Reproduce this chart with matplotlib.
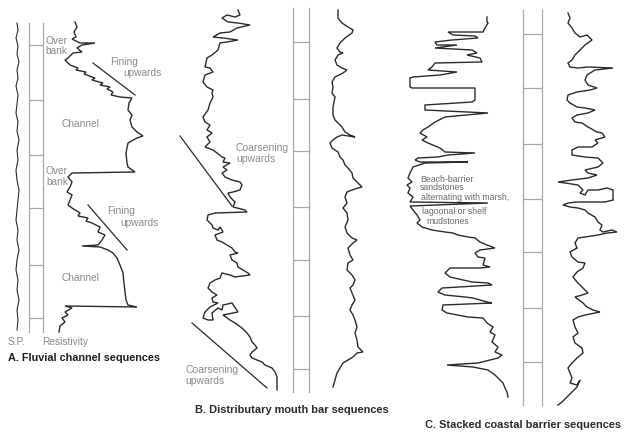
import matplotlib.pyplot as plt

# ── Global style ───────────────────────────────────────────────────────────────
plt.rcParams.update({
    "font.family": ["Liberation Sans", "DejaVu Sans"],
    "font.size":   7,
})

INK   = "#2b2b2b"
GRID  = "#a8a8a8"
LABEL = "#8a8a8a"

# ── Log traces (depth downwards, log reading across) ───────────────────────────
# A. Fluvial channel — S.P.
a_sp_depth = [23, 30, 38, 46, 54, 62, 70, 78, 86, 95, 104, 113, 122, 131, 140, 150,
              160, 170, 180, 190, 200, 210, 220, 230, 240, 250, 260, 270, 280, 290,
              300, 310, 320, 330]
a_sp_value = [17, 18, 16, 18, 17, 19, 17, 18, 16, 18, 17, 16, 18, 17, 19, 17,
              18, 16, 17, 19, 18, 17, 16, 18, 17, 19, 17, 16, 18, 17,
              19, 17, 18, 17]

# A. Fluvial channel — resistivity
a_res_depth = [22, 27, 32, 37, 39, 43, 43, 45, 48, 52, 53, 58, 60, 65, 68, 70, 72, 74,
               78, 80, 83, 85, 87, 89, 92, 95, 97, 98, 103, 110, 115, 120, 127, 132,
               136, 138, 143, 153, 163, 167, 172, 173, 177, 182, 187, 192, 195, 200,
               205, 208, 213, 216, 218, 221, 223, 227, 232, 235, 240, 245, 246, 247,
               250, 253, 258, 265, 273, 283, 292, 300, 305, 307, 306, 308, 312, 315,
               318, 322, 326, 332]
a_res_value = [75, 77, 74, 76, 72, 80, 95, 82, 77, 82, 73, 68, 65, 70, 78, 76, 86, 84,
               95, 92, 103, 100, 110, 107, 113, 111, 120, 132, 129, 128, 132, 130, 132,
               137, 143, 137, 128, 126, 127, 128, 135, 72, 68, 72, 70, 67, 72, 70,
               68, 72, 80, 78, 88, 86, 92, 100, 98, 105, 102, 98, 82, 100,
               108, 113, 117, 120, 123, 124, 125, 126, 128, 137, 65, 72, 65, 68,
               62, 65, 60, 59]

# B. Distributary mouth bar — S.P.
b_sp_depth = [10, 15, 17, 15, 18, 22, 23, 25, 28, 32, 33, 37, 38, 40, 42, 43, 50, 55, 58,
              67, 68, 72, 75, 82, 87, 90, 93, 97, 103, 110, 117, 122, 125, 130, 133,
              137, 142, 147, 150, 153, 157, 158, 162, 163, 167, 170, 173, 177, 180,
              182, 185, 190, 192, 193, 197, 202, 207, 210, 212, 213, 215, 220, 225,
              228, 230, 227, 232, 235, 240, 242, 245, 248, 252, 253, 255, 260, 263,
              267, 270, 273, 275, 277, 275, 273, 278, 280, 283, 288, 292, 295, 298,
              302, 303, 307, 312, 318, 320, 320, 313, 308, 310, 305, 303, 312, 313,
              315, 320, 323, 328, 333, 337, 342, 345, 348, 352, 355, 358, 360, 362,
              365, 368, 372, 377, 385, 390]
b_sp_value = [238, 240, 235, 227, 222, 228, 238, 250, 237, 230, 220, 213, 223, 238, 227,
              220, 218, 212, 207, 205, 210, 213, 205, 203, 207, 213, 212, 213, 210, 208,
              203, 205, 210, 207, 212, 207, 210, 205, 213, 217, 222, 225, 223, 230, 223,
              227, 222, 225, 232, 240, 242, 240, 233, 228, 230, 235, 233, 245, 247, 215,
              208, 207, 212, 213, 218, 220, 223, 215, 217, 222, 227, 232, 235, 238, 230,
              232, 237, 238, 243, 248, 250, 235, 230, 222, 220, 215, 210, 208, 212, 217,
              212, 213, 218, 210, 205, 203, 208, 213, 212, 218, 222, 223, 232, 238, 233,
              223, 230, 235, 242, 247, 250, 252, 255, 257, 252, 250, 252, 257, 262,
              265, 272, 275, 277, 277, 277]

# B. Distributary mouth bar — resistivity
b_res_depth = [10, 18, 23, 27, 30, 33, 38, 43, 48, 52, 53, 55, 60, 65, 68, 70, 73, 77, 82,
               87, 93, 97, 107, 115, 120, 123, 127, 132, 135, 137, 135, 137, 140, 143,
               148, 150, 152, 157, 160, 165, 168, 173, 178, 182, 185, 187, 188, 190,
               192, 197, 203, 208, 213, 220, 227, 233, 238, 240, 243, 248, 255, 260,
               263, 270, 275, 280, 285, 288, 293, 300, 305, 310, 315, 320, 327, 333,
               340, 347, 352, 353, 357, 360, 363, 368, 373, 380, 387]
b_res_value = [338, 338, 342, 348, 353, 352, 345, 340, 337, 340, 343, 338, 335, 337, 342,
               347, 343, 335, 332, 333, 332, 335, 333, 333, 335, 338, 342, 345, 350, 355,
               342, 337, 333, 330, 332, 335, 338, 340, 343, 345, 348, 352, 353, 357, 360,
               362, 358, 352, 347, 345, 347, 343, 347, 348, 345, 347, 352, 357, 353, 348,
               350, 353, 348, 347, 352, 355, 353, 350, 352, 355, 352, 350, 353, 355, 357,
               355, 357, 358, 363, 357, 353, 348, 343, 340, 337, 335, 333]

# C. Stacked coastal barrier — S.P.
c_sp_depth = [17, 22, 23, 28, 32, 32, 35, 36, 38, 40, 42, 45, 45, 48, 50, 53, 55, 58, 62,
              63, 67, 70, 72, 75, 77, 78, 87, 88, 88, 97, 100, 102, 105, 110, 113, 117,
              122, 127, 130, 133, 137, 140, 143, 148, 152, 153, 155, 157, 158, 160, 162,
              162, 163, 167, 173, 178, 182, 185, 188, 193, 197, 202, 203, 206, 210,
              215, 220, 223, 227, 230, 232, 233, 235, 237, 238, 242, 245, 248, 250,
              253, 257, 258, 265, 267, 268, 268, 273, 277, 282, 283, 285, 288, 292,
              295, 297, 298, 302, 303, 305, 310, 313, 317, 318, 323, 327, 332, 335,
              342, 347, 352, 355, 358, 363, 365, 367, 370, 375, 380, 383, 388, 392, 397]
c_sp_value = [487, 487, 488, 485, 483, 448, 453, 475, 478, 452, 435, 437, 457, 435, 472,
              477, 467, 480, 482, 435, 432, 428, 457, 440, 413, 410, 410, 412, 475, 475,
              475, 472, 425, 425, 488, 445, 435, 428, 423, 420, 427, 422, 428, 440, 445,
              475, 448, 438, 418, 415, 420, 468, 425, 413, 410, 408, 412, 407, 410, 408,
              413, 410, 488, 410, 413, 417, 420, 417, 422, 432, 445, 453, 458, 468, 475,
              480, 487, 495, 480, 475, 478, 485, 483, 490, 480, 450, 445, 450, 472, 488,
              492, 442, 438, 445, 465, 473, 487, 492, 443, 442, 447, 468, 483, 487, 493,
              490, 495, 492, 498, 495, 502, 498, 478, 447, 473, 488, 495, 500, 503, 505,
              507, 508]

# C. Stacked coastal barrier — resistivity
c_res_depth = [13, 18, 23, 28, 33, 37, 35, 40, 45, 50, 55, 60, 63, 67, 68, 67, 68, 70, 75,
               80, 85, 88, 90, 92, 95, 100, 103, 107, 108, 110, 113, 115, 118, 122, 123,
               127, 132, 133, 137, 140, 143, 147, 147, 150, 155, 157, 158, 163, 167, 170,
               173, 175, 178, 180, 182, 183, 185, 190, 193, 195, 190, 190, 188, 190,
               200, 202, 202, 203, 205, 207, 208, 210, 213, 217, 222, 225, 230, 232,
               230, 232, 233, 235, 237, 238, 243, 248, 252, 257, 262, 263, 268, 272,
               277, 282, 285, 290, 293, 295, 297, 303, 307, 310, 312, 315, 317, 320,
               327, 333, 337, 343, 348, 353, 358, 363, 368, 373, 378, 383, 385, 380,
               387, 392, 397, 402, 405]
c_res_value = [568, 570, 568, 572, 575, 580, 587, 592, 585, 580, 575, 572, 568, 570, 578,
               588, 613, 595, 587, 585, 588, 597, 590, 577, 568, 567, 570, 577, 585, 595,
               588, 577, 572, 575, 582, 588, 597, 602, 605, 595, 598, 592, 578, 572, 572,
               585, 598, 603, 598, 585, 588, 597, 588, 572, 558, 565, 578, 583, 580, 585,
               588, 598, 607, 613, 613, 605, 577, 568, 563, 570, 578, 585, 588, 595, 598,
               602, 600, 603, 612, 617, 607, 598, 585, 578, 575, 577, 570, 572, 578, 585,
               583, 577, 573, 577, 580, 585, 588, 582, 575, 583, 587, 593, 600, 585, 578,
               573, 575, 578, 573, 575, 582, 583, 577, 572, 568, 570, 572, 570, 577, 580,
               577, 572, 567, 562, 558]

# ── Depth tracks: column edges, top/bottom and scale ticks ─────────────────────
a_track_x, a_track_span = [29, 43], [23, 332]
a_track_ticks = [45, 100, 155, 208, 265, 318]
b_track_x, b_track_span = [293, 309], [8, 392]
b_track_ticks = [42, 99, 151, 207, 260, 316, 369]
c_track_x, c_track_span = [523, 542], [10, 405]
c_track_ticks = [34, 88, 144, 199, 252, 308, 362]

# ── Trend lines (fining / coarsening upwards): (x0, y0, x1, y1) ───────────────
trend_lines = [
    (93, 63, 135, 95),
    (88, 205, 127, 250),
    (180, 136, 232, 206),
    (192, 323, 267, 388),
]

# ── Annotations: (x, y, text, size, colour, weight) ───────────────────────────
labels = [
    (45, 41, "Over", 7.3, LABEL, "normal"),
    (45, 51, "bank", 7.3, LABEL, "normal"),
    (110, 62, "Fining", 7.3, LABEL, "normal"),
    (123, 73, "upwards", 7.3, LABEL, "normal"),
    (62, 124, "Channel", 7.3, LABEL, "normal"),
    (46, 171, "Over", 7.3, LABEL, "normal"),
    (46, 182, "bank", 7.3, LABEL, "normal"),
    (107, 211, "Fining", 7.3, LABEL, "normal"),
    (120, 223, "upwards", 7.3, LABEL, "normal"),
    (62, 278, "Channel", 7.3, LABEL, "normal"),
    (8, 342, "S.P.", 7.3, LABEL, "normal"),
    (42, 342, "Resistivity", 7.3, LABEL, "normal"),
    (8, 358, "A. Fluvial channel sequences", 7.8, "#1e1e1e", "bold"),
    (236, 148, "Coarsening", 7.5, LABEL, "normal"),
    (236, 159, "upwards", 7.5, LABEL, "normal"),
    (185, 370, "Coarsening", 7.5, LABEL, "normal"),
    (185, 381, "upwards", 7.5, LABEL, "normal"),
    (195, 410, "B. Distributary mouth bar sequences", 7.9, "#2a2a2a", "bold"),
    (420, 180, "Beach-barrier", 6.3, "#6a6a6a", "normal"),
    (420, 188, "sandstones", 6.3, "#6a6a6a", "normal"),
    (421, 198, "alternating with marsh,", 6.3, "#6a6a6a", "normal"),
    (422, 212, "lagoonal or shelf", 6.3, "#6a6a6a", "normal"),
    (426, 222, "mudstones", 6.3, "#6a6a6a", "normal"),
    (425, 425, "C. Stacked coastal barrier sequences", 7.9, "#2a2a2a", "bold"),
]

# ──────────────────────────────────────────────────────────────────────────────
fig = plt.figure(figsize=(6.24, 4.34), dpi=100)
ax = fig.add_axes([0, 0, 1, 1])
ax.set_xlim(0, 624)
ax.set_ylim(434, 0)
ax.axis("off")

traces = [
    (a_sp_value, a_sp_depth, 0.8),
    (a_res_value, a_res_depth, 1.0),
    (b_sp_value, b_sp_depth, 1.0),
    (b_res_value, b_res_depth, 1.0),
    (c_sp_value, c_sp_depth, 1.0),
    (c_res_value, c_res_depth, 1.0),
]
for xs, ys, lw in traces:
    ax.plot(xs, ys, color=INK, linewidth=lw, solid_joinstyle="miter")

# depth columns
for xs, span, ticks in [(a_track_x, a_track_span, a_track_ticks),
                        (b_track_x, b_track_span, b_track_ticks),
                        (c_track_x, c_track_span, c_track_ticks)]:
    for x in xs:
        ax.plot([x, x], span, color=GRID, linewidth=0.9)
    ax.hlines(ticks, xs[0], xs[1], color=GRID, linewidth=0.9)

for x0, y0, x1, y1 in trend_lines:
    ax.plot([x0, x1], [y0, y1], color=INK, linewidth=0.9)

for x, y, s, size, col, wt in labels:
    ax.text(x, y, s, fontsize=size, color=col, fontweight=wt,
            ha="left", va="center", clip_on=True)

fig.savefig("out.png", dpi=100)
